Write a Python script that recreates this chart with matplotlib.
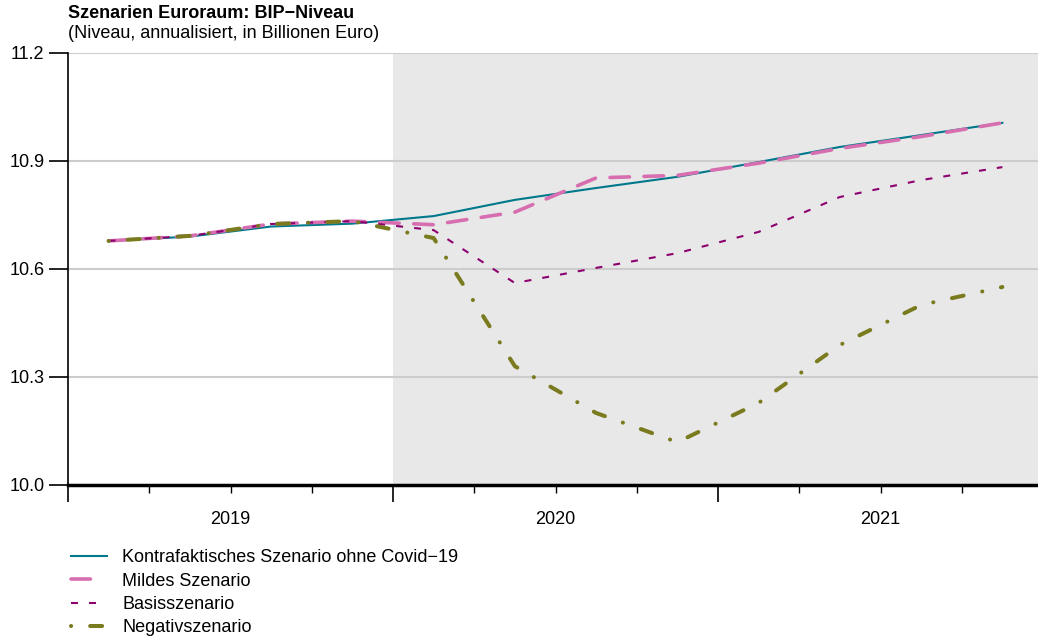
import matplotlib
matplotlib.use("Agg")
import matplotlib.pyplot as plt
from matplotlib.lines import Line2D
import numpy as np

plt.rcParams['font.family'] = ['Liberation Sans', 'DejaVu Sans']
plt.rcParams['lines.scale_dashes'] = False

# Quartale 2019Q1 .. 2021Q4 (Position = Quartalsmitte)
quartale = np.arange(12) + 0.5
jahre = ['2019', '2020', '2021']

kontrafaktisch = [10.678, 10.690, 10.718, 10.726, 10.747, 10.792, 10.825, 10.856, 10.897, 10.939, 10.972, 11.006]
mild = [10.678, 10.692, 10.725, 10.733, 10.723, 10.758, 10.853, 10.860, 10.894, 10.935, 10.968, 11.006]
basis = [10.678, 10.692, 10.725, 10.733, 10.708, 10.561, 10.603, 10.644, 10.703, 10.800, 10.847, 10.883]
negativ = [10.678, 10.692, 10.725, 10.733, 10.686, 10.330, 10.200, 10.119, 10.228, 10.389, 10.500, 10.550]

c_teal = '#00788C'
c_pink = '#D66EB0'
c_purple = '#8C0070'
c_olive = '#7A7A1E'

fig = plt.figure(figsize=(10.38, 6.38), dpi=100)
ax = fig.add_axes([68 / 1038, (638 - 485) / 638, 970 / 1038, 432 / 638])

ax.axvspan(4, 12, color='#E8E8E8', zorder=0, lw=0)

for y in [10.3, 10.6, 10.9, 11.2]:
    ax.axhline(y, color='#CCCCCC', lw=1.5, zorder=1)

l1, = ax.plot(quartale, kontrafaktisch, color=c_teal, lw=1.5, zorder=3)
ax.plot(quartale, mild, color=c_pink, lw=2.6, zorder=4, dashes=(14, 10.5),
        dash_capstyle='round')
l3, = ax.plot(quartale, basis, color=c_purple, lw=1.5, zorder=5, dashes=(5, 8))
l4, = ax.plot(quartale, negativ, color=c_olive, lw=2.9, zorder=6, dashes=(0.1, 13.7, 8.6, 13.7),
              dash_capstyle='round')
# Legendeneintrag: nur ein Strich wie im Original
l2 = Line2D([], [], color=c_pink, lw=2.6, dashes=(14, 30), dash_capstyle='round')

ax.set_xlim(0, 970 / 81.25)
ax.set_ylim(10.0, 11.2)
ax.set_yticks([10.0, 10.3, 10.6, 10.9, 11.2])
ax.set_yticklabels(['10.0', '10.3', '10.6', '10.9', '11.2'])

ax.set_xticks([0, 4, 8])
ax.set_xticks([1, 2, 3, 5, 6, 7, 9, 10, 11], minor=True)
ax.set_xticklabels([])
ax.tick_params(axis='x', which='major', length=12, width=1.2, color='black')
ax.tick_params(axis='x', which='minor', length=6, width=1.0, color='black')
ax.tick_params(axis='y', length=14, width=1.2, labelsize=13, pad=3)

for i, j in enumerate(jahre):
    ax.text(4 * i + 2, -0.08, j, transform=ax.get_xaxis_transform(),
            ha='center', va='center', fontsize=13)

for s in ['top', 'right']:
    ax.spines[s].set_visible(False)
ax.spines['bottom'].set_linewidth(2.5)
ax.spines['left'].set_linewidth(1.2)
ax.spines['left'].set_bounds(10.0, 11.2)

fig.text(68 / 1038, 1 - 14 / 638, 'Szenarien Euroraum: BIP\u2212Niveau',
         fontsize=13, fontweight='bold', ha='left', va='center')
fig.text(68 / 1038, 1 - 34 / 638, '(Niveau, annualisiert, in Billionen Euro)',
         fontsize=13, ha='left', va='center')

fig.legend([l1, l2, l3, l4],
           ['Kontrafaktisches Szenario ohne Covid\u221219', 'Mildes Szenario',
            'Basisszenario', 'Negativszenario'],
           loc='upper left', bbox_to_anchor=(71 / 1038, 1 - 549 / 638),
           frameon=False, fontsize=13, handlelength=2.0, handletextpad=0.83,
           labelspacing=0.36, borderaxespad=0, borderpad=0)

fig.savefig('out.png', dpi=100)
